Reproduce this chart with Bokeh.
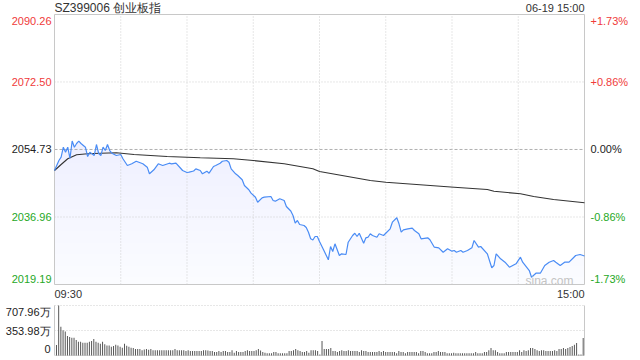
import numpy as np
from bokeh.plotting import figure
from bokeh.models import Range1d, Label
from bokeh.embed import file_html
from bokeh.resources import INLINE

TITLE = "SZ399006 创业板指"
DATE_LABEL = "06-19 15:00"
PREV_CLOSE = 2054.73
Y_TICKS = [2019.19, 2036.96, 2054.73, 2072.50, 2090.26]
Y_LABELS = ["2019.19", "2036.96", "2054.73", "2072.50", "2090.26"]
PCT_LABELS = ["-1.73%", "-0.86%", "0.00%", "+0.86%", "+1.73%"]
VOL_TICKS = [0, 353.98, 707.96]
VOL_LABELS = ["0", "353.98万", "707.96万"]
TIME_LABELS = ["09:30", "15:00"]
X_GRID = [30, 60, 90, 120, 150, 180, 210]

# minute index (0 = 09:30, 120 = 11:30/13:00, 240 = 15:00) and index value
PRICE_MIN = [0, 2, 3, 4, 5, 6, 7, 8, 9, 10, 11, 12, 14, 15, 16, 18, 19, 20, 21, 22,
             23, 24, 25, 26, 28, 30, 31, 33, 35, 37, 40, 42, 43, 45, 47, 49, 52, 53, 55, 57,
             58, 60, 61, 63, 64, 66, 67, 69, 70, 72, 73, 75, 76, 78, 79, 80, 82, 83, 85, 86,
             88, 89, 91, 92, 94, 95, 98, 99, 100, 102, 104, 105, 107, 108, 109, 110, 111, 113, 114, 115,
             116, 117, 118, 119, 120, 122, 124, 125, 126, 127, 129, 130, 132, 133, 135, 136, 137, 138, 140, 141,
             142, 143, 144, 146, 147, 149, 150, 152, 153, 155, 156, 157, 158, 160, 162, 163, 165, 166, 169, 170,
             172, 174, 176, 178, 180, 181, 182, 184, 185, 187, 189, 190, 192, 193, 196, 198, 199, 200, 202, 204,
             206, 209, 211, 212, 215, 216, 218, 220, 222, 224, 226, 227, 229, 231, 233, 236, 238, 240]
PRICE = [2049.20, 2051.83, 2052.70, 2055.33, 2054.01, 2055.33, 2052.36, 2056.96, 2055.33, 2056.30,
         2056.91, 2056.30, 2055.33, 2052.88, 2054.01, 2053.15, 2056.04, 2053.67, 2053.15, 2055.33,
         2054.46, 2056.04, 2054.46, 2053.75, 2053.15, 2053.41, 2052.28, 2050.51, 2050.96, 2051.64,
         2050.96, 2050.07, 2048.33, 2049.38, 2050.96, 2050.51, 2051.12, 2050.96, 2051.12, 2049.86,
         2049.20, 2048.67, 2048.75, 2049.07, 2049.64, 2049.20, 2048.33, 2049.02, 2048.49, 2050.25,
         2050.51, 2051.12, 2051.64, 2051.83, 2051.38, 2049.64, 2048.33, 2047.88, 2046.75, 2045.25,
         2044.12, 2043.23, 2042.17, 2040.85, 2042.01, 2042.17, 2042.35, 2041.30, 2041.12, 2041.75,
         2041.30, 2039.72, 2038.54, 2037.35, 2035.33, 2036.04, 2034.98, 2034.72, 2034.19, 2032.96,
         2031.22, 2030.90, 2031.82, 2031.82, 2030.51, 2028.14, 2025.69, 2029.19, 2027.88, 2029.90,
         2026.82, 2027.27, 2027.09, 2030.32, 2032.09, 2032.69, 2031.82, 2032.69, 2030.06, 2031.48,
         2031.64, 2032.54, 2032.09, 2031.64, 2032.54, 2032.09, 2032.69, 2033.85, 2035.59, 2036.75,
         2035.17, 2032.96, 2033.59, 2033.85, 2034.01, 2033.40, 2032.54, 2031.22, 2031.48, 2030.96,
         2029.01, 2028.85, 2027.69, 2028.59, 2027.96, 2028.14, 2027.69, 2028.14, 2027.69, 2028.14,
         2028.85, 2030.77, 2029.01, 2029.19, 2027.27, 2023.59, 2024.19, 2027.27, 2025.95, 2025.06,
         2023.74, 2024.64, 2026.38, 2025.06, 2022.87, 2021.11, 2022.16, 2022.16, 2024.19, 2025.06,
         2025.51, 2025.06, 2024.19, 2025.06, 2025.06, 2026.82, 2027.09, 2026.69]

AVG_MIN = [0, 3, 6, 10, 15, 21, 28, 36, 51, 66, 81, 90, 104, 117, 120, 143, 150, 181, 196, 199, 211, 217, 226, 240]
AVG = [2049.20, 2050.78, 2052.28, 2053.33, 2053.59, 2053.75, 2053.86, 2053.41, 2052.88, 2052.54,
       2052.28, 2051.83, 2050.96, 2049.64, 2048.93, 2046.56, 2046.12, 2044.80, 2044.20, 2043.75,
       2043.06, 2042.35, 2041.56, 2040.70]

# volume per minute (万)
VOLUME = [148, 708, 406, 359, 340, 277, 263, 253, 253, 220, 196, 196, 182, 182, 182, 196, 206, 234, 196, 182,
          167, 196, 158, 143, 143, 124, 134, 153, 143, 124, 110, 167, 139, 124, 110, 105, 91, 91, 91, 76,
          86, 91, 81, 91, 76, 76, 76, 76, 76, 76, 76, 76, 76, 76, 91, 76, 76, 76, 76, 62,
          76,
          62, 62, 62, 62, 62, 62, 76, 76, 72, 62, 62, 48, 48, 62, 48, 62, 62, 48, 48,
          76, 38, 62, 48, 48, 48, 62, 76, 62, 62, 62, 76, 91, 72, 48, 38, 33, 33, 33, 48,
          48, 33, 33, 33, 33, 33, 62, 62, 76, 91, 76, 62, 48, 48, 62, 38, 76, 76, 76, 62,
          14,
          206, 91, 91, 91, 105, 62, 62, 48, 62, 76, 62, 62, 76, 62, 62, 62, 62, 48, 76, 62,
          62, 48, 48, 48, 48, 48, 62, 48, 62, 48, 48, 48, 48, 48, 33, 62, 48, 48, 33, 48,
          48, 48, 48, 48, 33, 62, 62, 48, 33, 33, 33, 48, 48, 62, 48, 48, 48, 33, 33, 33,
          38,
          33, 33, 33, 33, 33, 33, 33, 33, 33, 48, 33, 33, 33, 48, 48, 76, 105, 76, 76, 48,
          33, 33, 33, 48, 48, 48, 48, 48, 48, 76, 48, 76, 62, 76, 105, 105, 91, 76, 62, 76,
          76, 62, 62, 62, 62, 76, 62, 91, 91, 105, 91, 105, 120, 134, 153, 177, 14, 14, 249]

FONT = "Liberation Sans"
RED = "#f03a3a"
GREEN = "#26a826"
DARK = "#222222"
TXT = "#333333"
BLUE = "#4a8cf5"
GRID = "#cfcfcf"
BORDER = "#c8c8c8"

W, H = 640, 360
# layout of the panels inside the canvas (pixels)
PL, PR = 54, 584           # left / right edge of both panels
MAIN_T, MAIN_B = 14, 284   # main panel top / bottom
VOL_T, VOL_B = 305, 355    # volume panel top / bottom

ymin, ymax = Y_TICKS[0], Y_TICKS[-1]
vmax = VOL_TICKS[-1]
XMIN, XMAX = 0, 240
VXMIN, VXMAX = -0.9, 240.6


def x_extent(lo, hi):
    s = (hi - lo) / (PR - PL)
    return lo - PL * s, lo + (W - PL) * s


def y_extent(lo, hi, top, bottom):
    s = (hi - lo) / (bottom - top)
    return lo - (H - bottom) * s, hi + top * s


x0, x1 = x_extent(XMIN, XMAX)
y0, y1 = y_extent(ymin, ymax, MAIN_T, MAIN_B)
vx0, vx1 = x_extent(VXMIN, VXMAX)
vy0, vy1 = y_extent(0, vmax, VOL_T, VOL_B)

p = figure(width=W, height=H, x_range=Range1d(x0, x1), y_range=Range1d(y0, y1),
           output_backend="svg", toolbar_location=None,
           x_axis_location=None, y_axis_location=None,
           min_border_left=0, min_border_right=0, min_border_top=0, min_border_bottom=0)
p.extra_x_ranges = {"vx": Range1d(vx0, vx1)}
p.extra_y_ranges = {"vy": Range1d(vy0, vy1)}
p.grid.visible = False
p.outline_line_color = None
p.background_fill_color = "white"
p.border_fill_color = "white"

px = np.array(PRICE_MIN, dtype=float)
pv = np.array(PRICE, dtype=float)

# gradient-like area fill
p.varea(x=px, y1=ymin, y2=pv, fill_color=BLUE, fill_alpha=0.025)
for lv in np.arange(ymin + 2, PREV_CLOSE + 3, 3.0):
    p.varea(x=px, y1=np.minimum(pv, lv), y2=pv, fill_color=BLUE, fill_alpha=0.009)

# main grid
mid = [t for t in Y_TICKS[1:-1] if t != PREV_CLOSE]
p.segment(x0=[XMIN] * len(mid), x1=[XMAX] * len(mid), y0=mid, y1=mid,
          line_color=GRID, line_width=1, line_dash="1 2")
p.segment(x0=[XMIN], x1=[XMAX], y0=[PREV_CLOSE], y1=[PREV_CLOSE],
          line_color="#b0b0b0", line_width=1, line_dash="3 2")
p.segment(x0=X_GRID, x1=X_GRID, y0=[ymin] * len(X_GRID), y1=[ymax] * len(X_GRID),
          line_color=GRID, line_width=1, line_dash="1 2")
p.quad(left=[XMIN], right=[XMAX], bottom=[ymin], top=[ymax], fill_color=None,
       line_color=BORDER, line_width=1)

p.line(AVG_MIN, AVG, line_color="#333333", line_width=1.1)
p.line(px, pv, line_color=BLUE, line_width=1.2)


def lab(x, y, text, color, align, xo=0, yo=0, size="11px", xr="default", yr="default"):
    p.add_layout(Label(x=x, y=y, text=text, x_offset=xo, y_offset=yo, text_align=align,
                       text_baseline="middle", text_color=color, text_font=FONT,
                       text_font_size=size, x_range_name=xr, y_range_name=yr))


colors = [GREEN, GREEN, DARK, RED, RED]
for i, t in enumerate(Y_TICKS):
    yo = 0
    if i == 0:
        yo = 6
    elif i == len(Y_TICKS) - 1:
        yo = -6
    lab(XMIN, t, Y_LABELS[i], colors[i], "right", xo=-3, yo=yo)
    lab(XMAX, t, PCT_LABELS[i], colors[i], "left", xo=6, yo=yo)

lab(XMIN, ymax, TITLE, TXT, "left", yo=7, size="12px")
lab(XMAX, ymax, DATE_LABEL, TXT, "right", yo=7)
lab(XMIN, ymin, TIME_LABELS[0], TXT, "left", yo=-9)
lab(XMAX, ymin, TIME_LABELS[1], TXT, "right", yo=-9)
lab(XMAX, ymin, "sina.com", "#c4c4c4", "right", xo=-11, yo=4, size="12px")

# volume panel
vgrid = VOL_TICKS[1:]
p.segment(x0=[VXMIN] * len(vgrid), x1=[VXMAX] * len(vgrid), y0=vgrid, y1=vgrid,
          line_color=GRID, line_width=1, line_dash="1 2", x_range_name="vx", y_range_name="vy")
p.segment(x0=[VXMIN, VXMAX], x1=[VXMIN, VXMAX], y0=[0, 0], y1=[vmax, vmax],
          line_color=BORDER, line_width=1, x_range_name="vx", y_range_name="vy")
p.segment(x0=[VXMIN], x1=[VXMAX], y0=[0], y1=[0],
          line_color="#dddddd", line_width=1, x_range_name="vx", y_range_name="vy")

p.vbar(x=np.arange(len(VOLUME)), top=VOLUME, bottom=0, width=0.45, fill_color="#555555",
       line_color=None, x_range_name="vx", y_range_name="vy")

for t, s in zip(VOL_TICKS, VOL_LABELS):
    yo = 0
    if t == 0:
        yo = 7
    elif t == vmax:
        yo = -6
    lab(VXMIN, t, s, DARK, "right", xo=-4, yo=yo, xr="vx", yr="vy")

open("out.html", "w").write(file_html(p, INLINE))
